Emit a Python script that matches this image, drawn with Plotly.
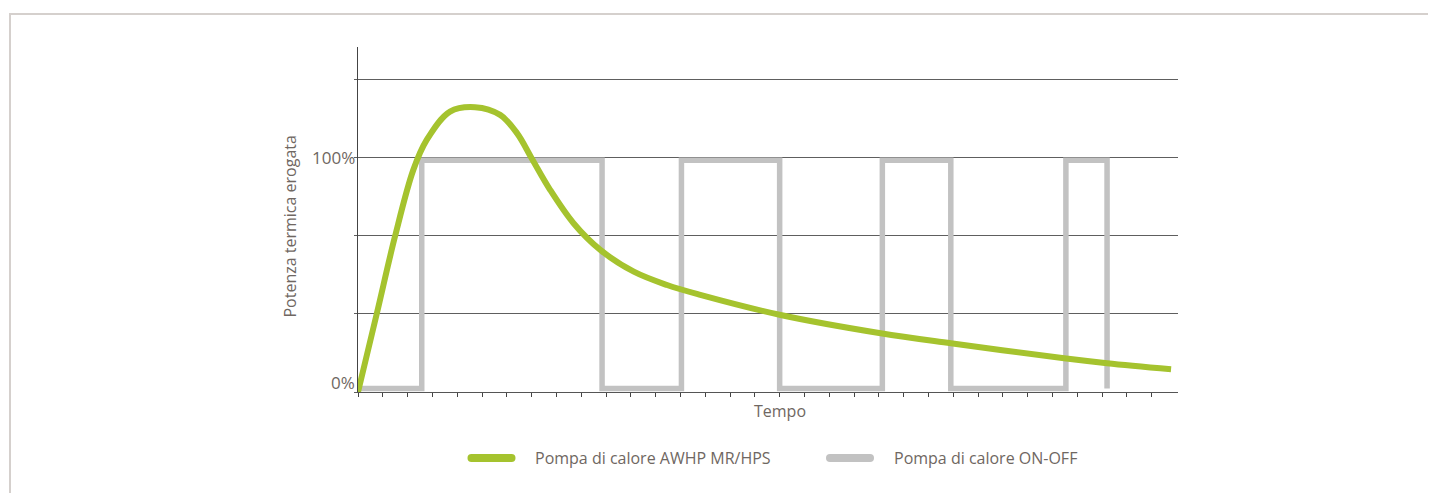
import plotly.graph_objects as go

# curva pompa modulante (AWHP MR/HPS)
t_mod = [0, 0.76, 1.49, 2.23, 2.77, 3.71, 4.72, 5.73, 6.41, 7.0, 7.75,
         8.69, 9.77, 11.12, 12.46, 13.8, 17.04, 21.07, 23.9, 28.47, 30.2, 32.78]
p_mod = [0, 33.6, 66.4, 94.9, 107.7, 119.8, 121.7, 118.4, 110.6, 99.9, 86.3,
         72.1, 60.7, 51.4, 45.7, 41.5, 32.9, 25.1, 20.8, 14.4, 12.3, 9.7]

# pompa ON-OFF: istanti di commutazione e livello dopo la commutazione
t_onoff = [0, 2.57, 9.84, 13.04, 17.0, 21.14, 23.9, 28.54, 30.2]
p_onoff = [1.5, 99, 1.5, 99, 1.5, 99, 1.5, 99, 1.5]

grid_vals = [0, 33.33, 66.67, 100, 133.33]
label_vals = [0, 100]
label_text = ["0%", "100%"]
x_ticks = list(range(0, 33))

series_names = ["Pompa di calore AWHP MR/HPS", "Pompa di calore ON-OFF"]
y_title = "Potenza termica erogata"
x_title = "Tempo"

GREEN = "#a5c32e"
GRAY = "#c2c2c2"
TXT = "#6f6762"
FONT = "Open Sans"

fig = go.Figure()
fig.add_trace(go.Scatter(x=t_onoff, y=p_onoff, mode="lines", line_shape="hv",
                         line=dict(color=GRAY, width=5.5), name=series_names[1],
                         showlegend=False))
fig.add_trace(go.Scatter(x=t_mod, y=p_mod, mode="lines", line_shape="spline",
                         line=dict(color=GREEN, width=6, smoothing=1.0),
                         name=series_names[0], showlegend=False))

fig.update_xaxes(range=[0, 33.06], showgrid=False, zeroline=False,
                 showline=True, linecolor="#555", linewidth=1,
                 tickmode="array", tickvals=x_ticks, ticks="outside",
                 ticklen=4, tickcolor="#444", showticklabels=False)
fig.update_yaxes(range=[0, 147.4], showgrid=True, gridcolor="#5e5e5e", gridwidth=1,
                 zeroline=False, showline=True, linecolor="#444", linewidth=1,
                 tickmode="array", tickvals=grid_vals, ticks="outside",
                 ticklen=3, tickcolor="#5e5e5e", showticklabels=False)

ann = []
for v, t in zip(label_vals, label_text):
    ann.append(dict(x=-0.001, xref="paper", y=v, yref="y", text=t, showarrow=False,
                    xanchor="right", yanchor="bottom" if v == 0 else "middle",
                    yshift=-4 if v == 0 else 0,
                    font=dict(size=17, color=TXT, family=FONT)))
ann.append(dict(x=-0.0841, y=0.4797, xref="paper", yref="paper", text=y_title,
                textangle=-90, showarrow=False, xanchor="center", yanchor="middle",
                font=dict(size=16, color=TXT, family=FONT)))
ann.append(dict(x=0.5146, y=-0.055, xref="paper", yref="paper", text=x_title,
                showarrow=False, xanchor="center", yanchor="middle",
                font=dict(size=16, color=TXT, family=FONT)))

# legenda manuale (pastiglie arrotondate)
pill = "M -20,-4 L 20,-4 Q 24,-4 24,0 Q 24,4 20,4 L -20,4 Q -24,4 -24,0 Q -24,-4 -20,-4 Z"
shapes = []
for xc, xt, col, name in [(0.1628, 0.2134, GREEN, series_names[0]),
                          (0.6, 0.6512, GRAY, series_names[1])]:
    shapes.append(dict(type="path", xref="paper", yref="paper", xsizemode="pixel",
                       ysizemode="pixel", xanchor=xc, yanchor=-0.1913, path=pill,
                       fillcolor=col, line=dict(width=0)))
    ann.append(dict(x=xt, y=-0.1913, xref="paper", yref="paper", text=name,
                    showarrow=False, xanchor="left", yanchor="middle",
                    font=dict(size=16, color=TXT, family=FONT)))

# cornice grigia
shapes.append(dict(type="line", xref="paper", yref="paper", x0=-0.4244, x1=-0.4244,
                   y0=1.0957, y1=-0.33, line=dict(color="#d5d0cd", width=2)))
shapes.append(dict(type="line", xref="paper", yref="paper", x0=-0.4256, x1=1.33,
                   y0=1.0957, y1=1.0957, line=dict(color="#d5d0cd", width=2)))

# la pagina ha 8 px di margine: l'area del grafico parte da (350, 39)
fig.update_layout(width=1436, height=493, margin=dict(l=350, r=266, t=39, b=109),
                  paper_bgcolor="white", plot_bgcolor="white",
                  font=dict(family=FONT, color=TXT, size=16),
                  annotations=ann, shapes=shapes)

fig.write_html("out.html")
